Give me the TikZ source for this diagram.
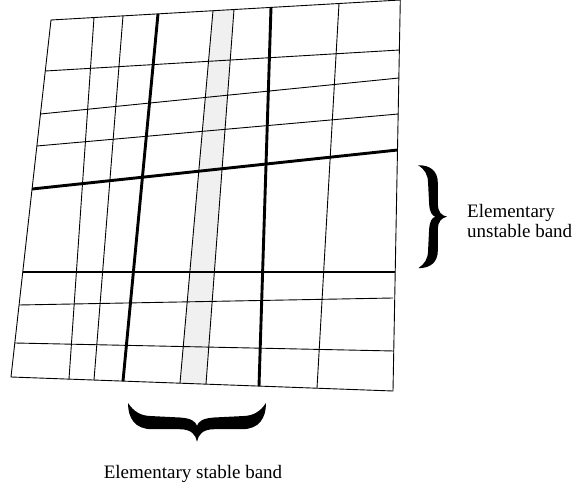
\documentclass[tikz,border=0pt]{standalone}
\usepackage{fontspec}
\setmainfont{Liberation Serif}

\begin{document}
\begin{tikzpicture}[x=1pt, y=-1pt,
    thin line/.style={line width=0.9pt},
    thick line/.style={line width=2.9pt},
    band/.style={fill=black!6},
    captext/.style={font=\fontsize{19}{23}\selectfont, inner sep=0pt},
    pics/bandbrace/.style={code={
        \fill (0,1) .. controls (0.22,1) and (0.38,0.9) .. (0.38,0.65)
            -- (0.38,0.25) .. controls (0.38,0.08) and (0.46,0.02) .. (0.56,0)
            .. controls (0.46,-0.02) and (0.38,-0.08) .. (0.38,-0.25)
            -- (0.38,-0.65) .. controls (0.38,-0.9) and (0.22,-1) .. (0,-1)
            .. controls (0.12,-0.92) and (0.19,-0.82) .. (0.19,-0.65)
            -- (0.21,-0.25) .. controls (0.22,-0.08) and (0.27,-0.02) .. (0.33,0)
            .. controls (0.27,0.02) and (0.22,0.08) .. (0.21,0.25)
            -- (0.19,0.65) .. controls (0.19,0.82) and (0.12,0.92) .. (0,1) -- cycle;
    }}]
    \useasboundingbox (0,0) rectangle (574,489);

    % the stable band
    \fill[band] (213,10.7) -- (234,9.5) -- (206,384.1) -- (180,383.2) -- cycle;

    % thin grid lines
    \foreach \xa/\ya/\xb/\yb in {45.3/71/399.5/50, 40.5/114/399/78, 36.9/146/398.3/114,
            19.1/305/393/298, 14.8/343/393.8/351,
            94/17.5/69/379.1, 123/15.9/94/380, 213/10.7/180/383.2,
            234/9.5/206/384.1, 339/3.5/317/388.2}
        \draw[thin line] (\xa,\ya) -- (\xb,\yb);

    % thick grid lines
    \foreach \xa/\ya/\xb/\yb in {32.1/189/397.6/150, 22.8/272/395.3/272,
            158/13.9/123/381.1, 271/7.4/259/386.1}
        \draw[thick line] (\xa,\ya) -- (\xb,\yb);

    % outline
    \coordinate (tl) at (51,20);
    \coordinate (tr) at (400.3,0);
    \coordinate (br) at (393,391);
    \coordinate (bl) at (11,377);
    \draw[thin line] (tl) -- (tr) -- (br) -- (bl) -- cycle;

    % braces and captions
    \pic[scale=51.5] (ubrace) at (418.3,216.7) {bandbrace};
    \pic[scale=69, rotate=-90] (sbrace) at (197,403) {bandbrace};

    \node[captext, anchor=base west] (unstabletop) at (467,217.3) {Elementary};
    \node[captext, anchor=base west] (unstablebot) at (467,238) {unstable band};
    \node[captext, anchor=base] (stablecap) at (193,479) {Elementary stable band};
\end{tikzpicture}
\end{document}
